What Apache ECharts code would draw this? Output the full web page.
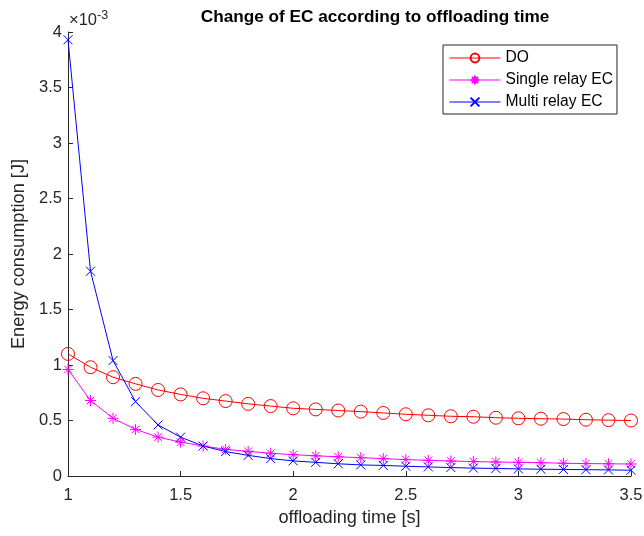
<!DOCTYPE html>
<html><head><meta charset="utf-8">
<script src="https://cdn.jsdelivr.net/npm/echarts@6/dist/echarts.min.js"></script>
<style>html,body{margin:0;padding:0;background:#fff}#c{width:644px;height:536px}</style>
</head><body><div id="c"></div>
<script>
// offloading time [s]
const times = [1.0,1.1,1.2,1.3,1.4,1.5,1.6,1.7,1.8,1.9,2.0,2.1,2.2,2.3,2.4,2.5,2.6,2.7,2.8,2.9,3.0,3.1,3.2,3.3,3.4,3.5];
// energy consumption, in units of 1e-3 J
const doEC = [1.10,0.98,0.89,0.83,0.775,0.735,0.70,0.675,0.65,0.63,0.61,0.60,0.59,0.58,0.568,0.556,0.547,0.538,0.534,0.525,0.52,0.516,0.513,0.507,0.503,0.50];
const singleEC = [0.96,0.68,0.52,0.42,0.35,0.305,0.27,0.24,0.222,0.205,0.192,0.182,0.173,0.165,0.156,0.148,0.141,0.135,0.13,0.126,0.123,0.12,0.115,0.112,0.11,0.108];
const multiEC = [3.93,1.845,1.04,0.67,0.46,0.35,0.27,0.22,0.186,0.157,0.136,0.123,0.11,0.10,0.095,0.088,0.082,0.076,0.071,0.068,0.064,0.061,0.059,0.057,0.055,0.052];
const seriesNames = ['DO','Single relay EC','Multi relay EC'];

const pair = arr => times.map((t,i)=>[t,arr[i]]);
const FONT = 'Liberation Sans, Arial, Helvetica, sans-serif';
const AX = '#262626';
const STAR = 'path://M5,0L5,10M0,5L10,5M1.5,1.5L8.5,8.5M8.5,1.5L1.5,8.5';
const CROSS = 'path://M0,0L10,10M10,0L0,10';

const chart = echarts.init(document.getElementById('c'), null, {renderer:'canvas'});
const common = {type:'line', silent:true, emphasis:{disabled:true}, animation:false};
chart.setOption({
  animation:false,
  backgroundColor:'#fff',
  tooltip:{show:false},
  title:{text:'Change of EC according to offloading time', left:370, top:4, textAlign:'center',
    textStyle:{fontFamily:FONT, fontSize:17.2, fontWeight:'bold', color:'#000'}},
  grid:{left:68, right:13, top:32, bottom:60, containLabel:false, outerBoundsMode:'none'},
  legend:{orient:'vertical', left:443, top:45, data:seriesNames, selectedMode:false,
    borderColor:AX, borderWidth:1, backgroundColor:'#fff',
    padding:[5,4,4,6], itemWidth:51, itemHeight:11, itemGap:6,
    lineStyle:{width:1},
    textStyle:{fontFamily:FONT, fontSize:15.6, lineHeight:16, color:'#000'}},
  xAxis:{type:'value', min:1, max:3.5, interval:0.5,
    name:'offloading time [s]', nameLocation:'middle', nameGap:31,
    nameTextStyle:{fontFamily:FONT, fontSize:18.2, color:AX},
    axisLine:{show:true, onZero:false, lineStyle:{color:AX, width:1}},
    axisTick:{show:true, inside:true, length:5, lineStyle:{color:AX}},
    axisLabel:{fontFamily:FONT, fontSize:16.5, color:AX, margin:11},
    splitLine:{show:false}},
  yAxis:{type:'value', min:0, max:4, interval:0.5,
    name:'Energy consumption [J]', nameLocation:'middle', nameGap:39,
    nameTextStyle:{fontFamily:FONT, fontSize:18.2, color:AX},
    axisLine:{show:true, lineStyle:{color:AX, width:1}},
    axisTick:{show:true, inside:true, length:5, lineStyle:{color:AX}},
    axisLabel:{fontFamily:FONT, fontSize:16.5, color:AX, margin:6},
    splitLine:{show:false}},
  graphic:[{type:'text', left:69, top:9, silent:true, style:{
    text:'×10{s|-3}', fontFamily:FONT, fontSize:16.5, fill:AX,
    rich:{s:{fontFamily:FONT, fontSize:12.5, fill:AX, padding:[0,0,10,0]}}}}],
  series:[
    Object.assign({name:seriesNames[0], data:pair(doEC), symbol:'circle', symbolSize:13,
      lineStyle:{color:'#ff0000', width:1}, itemStyle:{color:'transparent', borderColor:'#ff0000', borderWidth:1}}, common),
    Object.assign({name:seriesNames[1], data:pair(singleEC), symbol:STAR, symbolSize:11,
      lineStyle:{color:'#ff00ff', width:1}, itemStyle:{color:'transparent', borderColor:'#ff00ff', borderWidth:1}}, common),
    Object.assign({name:seriesNames[2], data:pair(multiEC), symbol:CROSS, symbolSize:9,
      lineStyle:{color:'#0000ff', width:1}, itemStyle:{color:'transparent', borderColor:'#0000ff', borderWidth:1}}, common)
  ]
});
</script></body></html>
